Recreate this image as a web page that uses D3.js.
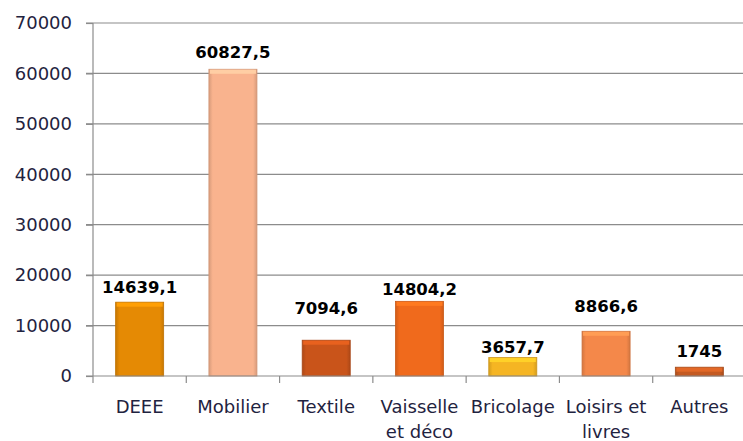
<!DOCTYPE html>
<html>
<head>
<meta charset="utf-8">
<script src="https://cdn.jsdelivr.net/npm/d3@7/dist/d3.min.js"></script>
<style>
  body { margin: 0; background: #fff; }
  text { font-family: "DejaVu Sans", sans-serif; }
</style>
</head>
<body>
<div id="vis_canvas"></div>
<script>
var categories = ['DEEE', 'Mobilier', 'Textile', 'Vaisselle et déco', 'Bricolage', 'Loisirs et livres', 'Autres'];
var values = [14639.1, 60827.5, 7094.6, 14804.2, 3657.7, 8866.6, 1745];
var yTicks = [0, 10000, 20000, 30000, 40000, 50000, 60000, 70000];
var barColors = ['#e58a04', '#f9b38e', '#c9541a', '#f06a1c', '#f5b523', '#f4884a', '#c45a22'];

var data = categories.map(function (c, i) {
    return {name: c, value: values[i], color: barColors[i]};
});

var W = 743, H = 441;
var margin = {top: 23, right: -3, bottom: 65, left: 93},
    width = W - margin.left - margin.right,
    height = H - margin.top - margin.bottom;

// labels were nudged by hand in the original chart (px above bar top)
var labelLift = [9, 11, 26, 6, 5, 19, 10];

var x = d3.scaleBand().domain(categories).range([0, width]).paddingInner(0.485).paddingOuter(0.2425);
var y = d3.scaleLinear().domain([0, 70000]).range([height, 0]);

var svg = d3.select("#vis_canvas").append("svg")
    .attr("width", W)
    .attr("height", H);

var g = svg.append("g")
    .attr("transform", "translate(" + margin.left + "," + margin.top + ")");

// gradients for a bevel look
var defs = svg.append("defs");
data.forEach(function (d, i) {
    var grad = defs.append("linearGradient")
        .attr("id", "grad" + i)
        .attr("x1", "0").attr("x2", "1").attr("y1", "0").attr("y2", "0");
    grad.append("stop").attr("offset", "0%").attr("stop-color", d3.color(d.color).darker(0.4));
    grad.append("stop").attr("offset", "8%").attr("stop-color", d.color);
    grad.append("stop").attr("offset", "92%").attr("stop-color", d.color);
    grad.append("stop").attr("offset", "100%").attr("stop-color", d3.color(d.color).darker(0.4));
});

// gridlines
g.append("g")
    .selectAll("line")
    .data(yTicks.slice(1))
    .enter().append("line")
    .attr("x1", -7)
    .attr("x2", width)
    .attr("y1", function (d) { return y(d); })
    .attr("y2", function (d) { return y(d); })
    .attr("stroke", "#8c8c8c")
    .attr("stroke-width", 1.2);

// y axis
var yAxis = g.append("g")
    .attr("class", "y axis")
    .call(d3.axisLeft(y).tickValues(yTicks).tickSize(7).tickPadding(14).tickFormat(d3.format("d")));
yAxis.selectAll("line, path").attr("stroke", "#8c8c8c").attr("stroke-width", 1.2);
yAxis.select(".domain").attr("d", "M0," + y(70000) + "V" + height);
yAxis.selectAll("text")
    .style("font-size", "18px")
    .style("font-family", "'DejaVu Sans', sans-serif")
    .attr("fill", "#1f2340");

// bars
var bars = g.selectAll(".bar")
    .data(data)
    .enter().append("g")
    .attr("class", "bar");

bars.append("rect")
    .attr("x", function (d) { return x(d.name); })
    .attr("y", function (d) { return y(d.value); })
    .attr("width", x.bandwidth())
    .attr("height", function (d) { return height - y(d.value); })
    .style("fill", function (d, i) { return "url(#grad" + i + ")"; })
    .style("stroke", function (d) { return d3.color(d.color).darker(0.5); })
    .style("stroke-width", 0.8);

// top bevel
bars.append("rect")
    .attr("x", function (d) { return x(d.name) + 1; })
    .attr("y", function (d) { return y(d.value) + 0.5; })
    .attr("width", x.bandwidth() - 2)
    .attr("height", function (d) { return Math.min(4, height - y(d.value) - 1); })
    .style("fill", function (d) { return d3.color(d.color).brighter(0.4); });

// value labels
bars.append("text")
    .attr("x", function (d) { return x(d.name) + x.bandwidth() / 2; })
    .attr("y", function (d, i) { return y(d.value) - labelLift[i]; })
    .attr("text-anchor", "middle")
    .style("font-size", "16.5px")
    .style("font-weight", "bold")
    .attr("fill", "#000")
    .text(function (d) { return String(d.value).replace(".", ","); });

// x axis
var xAxis = g.append("g")
    .attr("class", "x axis")
    .attr("transform", "translate(0," + height + ")");
xAxis.append("line")
    .attr("x1", -7).attr("x2", width)
    .attr("stroke", "#8c8c8c").attr("stroke-width", 1.2);
xAxis.selectAll(".tick")
    .data(d3.range(categories.length))
    .enter().append("line")
    .attr("x1", function (i) { return x.step() * i; })
    .attr("x2", function (i) { return x.step() * i; })
    .attr("y1", 0).attr("y2", 7)
    .attr("stroke", "#8c8c8c").attr("stroke-width", 1.2);

var labels = xAxis.selectAll(".xlabel")
    .data(categories)
    .enter().append("text")
    .attr("class", "xlabel")
    .attr("text-anchor", "middle")
    .attr("x", function (d) { return x(d) + x.bandwidth() / 2; })
    .attr("y", 37)
    .style("font-size", "18px")
    .attr("fill", "#1f2340");

labels.each(function (d) {
    var t = d3.select(this);
    var lines = d === 'Vaisselle et déco' ? ['Vaisselle', 'et déco'] :
                d === 'Loisirs et livres' ? ['Loisirs et', 'livres'] : [d];
    lines.forEach(function (l, i) {
        t.append("tspan")
            .attr("x", x(d) + x.bandwidth() / 2)
            .attr("dy", i === 0 ? 0 : 25)
            .text(l);
    });
});
</script>
</body>
</html>
